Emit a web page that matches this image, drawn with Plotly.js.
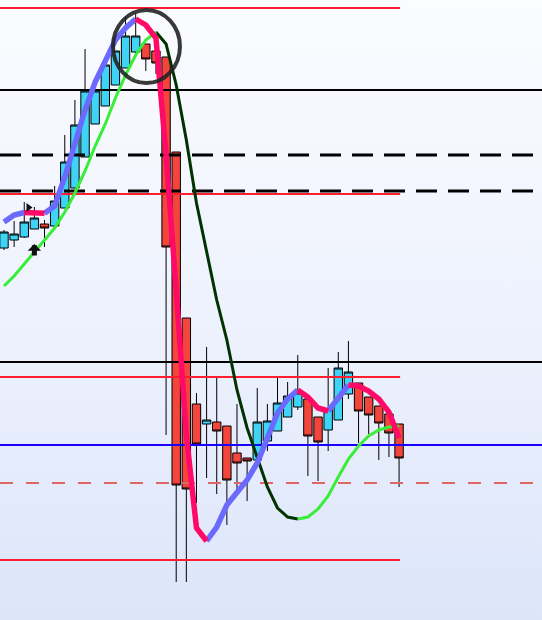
<!DOCTYPE html>
<html><head><meta charset="utf-8">
<script src="https://cdn.plot.ly/plotly-3.0.1.min.js"></script>
<style>
html,body{margin:0;padding:0;}
body{width:542px;height:620px;overflow:hidden;background:linear-gradient(to bottom,#fbfcff 0%,#eef2fd 50%,#dce5fa 100%);}
#chart{width:542px;height:620px;}
</style></head><body><div id="chart"></div>
<script>
// ---- DATA ----
const openP  = [372,380,383,391,396,394,412,432,463,496,514,535,552,568,576,569,563,468,302,216,196,198,194,167,162,160,179,189,203,213,221,203,190,200,226,237,223,214,206,196];
const highP  = [390,399,418,413,400,434,485,520,571,529,555,569,604,607,576,569,563,468,302,227,273,242,194,216,162,232,216,242,238,265,221,203,252,268,279,237,223,214,206,196];
const lowP   = [370,373,382,391,373,394,412,432,463,496,514,535,552,565,549,546,185,38,38,117,142,126,95,130,119,160,169,189,203,210,144,139,169,200,221,177,186,160,163,133];
const closeP = [388,386,398,402,392,419,458,495,529,529,555,569,584,584,561,557,373,135,131,176,200,189,140,157,159,198,199,217,224,227,184,178,211,252,248,209,205,197,187,162];
const fastMA = [398,405,407.5,407.2,406.8,414,443,477,510,538,560,580,592,601,595,582,465,330,185,92,79,93,115,127,140,157,183,207,221,230,223,212,209,221,235,234,229,221,208,182];
const slowMA = [334,344,356,368,379,392,408,427,449,474,496,522,545,565,580,588,576,535,480,417,367,320,280,230,192,163,133,112,103,101,103,111,124,143,161,174,184,190,193,194];
const levelsBlackSolid = [530,258];
const levelsBlackDash  = [465,429];
const levelsRed        = [612,426,243,60];
const levelsBlue       = [175];
const levelsRedDash    = [137];
const signalBar = [2.42];
const signalPrice = [412.5];
const arrowBar = 3;
const arrowPrice = 376;

// ---- LAYOUT HELPERS ----
const W = 542, H = 620;
const step = 10.13, firstPx = 4;
const xMin = -firstPx/step, xMax = xMin + W/step;
const n = openP.length;
const idx = openP.map((_, i) => i);
const redEnd = (n - 1) + 0.1;

function runs(vals){
  const out = {up:{x:[],y:[]}, down:{x:[],y:[]}};
  let prev = null;
  for (let i = 0; i < vals.length - 1; i++){
    const dir = vals[i+1] >= vals[i] ? 'up' : 'down';
    const t = out[dir];
    if (dir !== prev){
      if (t.x.length){ t.x.push(null); t.y.push(null); }
      t.x.push(i); t.y.push(vals[i]);
    }
    t.x.push(i+1); t.y.push(vals[i+1]);
    prev = dir;
  }
  return out;
}

const traces = [];
traces.push({
  type:'candlestick', x: idx, open: openP, high: highP, low: lowP, close: closeP,
  increasing:{fillcolor:'#3fd4f5', line:{color:'#000', width:1}},
  decreasing:{fillcolor:'#f3453c', line:{color:'#000', width:1}},
  whiskerwidth:0, hoverinfo:'skip', showlegend:false
});

function level(p, x1, color, width, dash){
  traces.push({type:'scatter', mode:'lines', x:[xMin, x1], y:[p, p],
    line:{color:color, width:width, dash:dash||'solid'}, hoverinfo:'skip', showlegend:false});
}
levelsRed.forEach(p => level(p, redEnd, '#ff1e2d', 2));
levelsRedDash.forEach(p => level(p, xMax, '#e06666', 2, '13px,13px'));
levelsBlackDash.forEach(p => level(p, xMax, '#000', 3, '21px,11px'));
levelsBlackSolid.forEach(p => level(p, xMax, '#000', 2));
levelsBlue.forEach(p => level(p, xMax, '#1a00ff', 2));

const slow = runs(slowMA);
traces.push({type:'scatter', mode:'lines', x:slow.down.x, y:slow.down.y, line:{color:'#003300', width:3}, hoverinfo:'skip', showlegend:false, connectgaps:false});
traces.push({type:'scatter', mode:'lines', x:slow.up.x, y:slow.up.y, line:{color:'#38ee38', width:3}, hoverinfo:'skip', showlegend:false, connectgaps:false});
const fast = runs(fastMA);
traces.push({type:'scatter', mode:'lines', x:fast.up.x, y:fast.up.y, line:{color:'#6a6aff', width:5.5}, hoverinfo:'skip', showlegend:false, connectgaps:false});
traces.push({type:'scatter', mode:'lines', x:fast.down.x, y:fast.down.y, line:{color:'#ff0a66', width:5.5}, hoverinfo:'skip', showlegend:false, connectgaps:false});

traces.push({type:'scatter', mode:'markers', x:signalBar, y:signalPrice,
  marker:{symbol:'triangle-right', size:8, color:'#111'}, hoverinfo:'skip', showlegend:false});

const layout = {
  width: W, height: H,
  margin:{l:0, r:0, t:0, b:0, pad:0},
  paper_bgcolor:'rgba(0,0,0,0)', plot_bgcolor:'rgba(0,0,0,0)',
  showlegend:false, boxgap:0.17, boxgroupgap:0,
  xaxis:{range:[xMin, xMax], visible:false, rangeslider:{visible:false}, fixedrange:true},
  yaxis:{range:[0, H], visible:false, fixedrange:true},
  shapes:[{type:'circle', xref:'x', yref:'y', x0:10.76, x1:17.37, y0:537, y1:610,
    line:{color:'rgba(35,35,35,0.9)', width:4}, layer:'above'}],
  annotations:[{x:arrowBar, y:arrowPrice, xref:'x', yref:'y', ax:0, ay:13, text:'',
    showarrow:true, arrowhead:1, arrowsize:0.45, arrowwidth:5, arrowcolor:'#111', standoff:0}]
};
Plotly.newPlot('chart', traces, layout, {staticPlot:true, displayModeBar:false});
</script></body></html>
